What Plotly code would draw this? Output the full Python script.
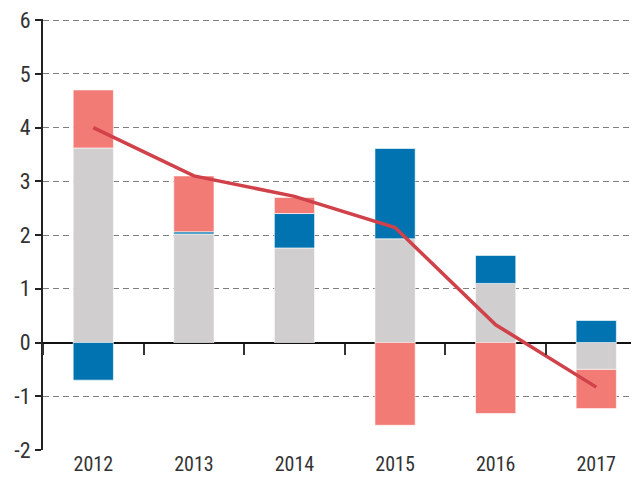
import plotly.graph_objects as go

# values
years = ["2012", "2013", "2014", "2015", "2016", "2017"]
gray_vals = [3.62, 2.02, 1.76, 1.93, 1.10, -0.50]
blue_vals = [-0.70, 0.04, 0.64, 1.68, 0.52, 0.41]
salmon_vals = [1.08, 1.04, 0.30, -1.54, -1.32, -0.73]
line_vals = [4.00, 3.10, 2.72, 2.14, 0.33, -0.83]
y_ticks = [-2, -1, 0, 1, 2, 3, 4, 5, 6]
y_ticktext = ["-2", "-1", "0", "1", "2", "3", "4", "5", "6"]

GRAY = "#d0cecf"
BLUE = "#0073b0"
SALMON = "#f27b76"
RED = "#d0414a"
FONT = "Liberation Sans Narrow, Roboto Condensed, Arial Narrow, sans-serif"

fig = go.Figure()
for vals, col in [(gray_vals, GRAY), (blue_vals, BLUE), (salmon_vals, SALMON)]:
    fig.add_trace(go.Bar(x=years, y=vals, width=0.4,
                         marker=dict(color=col, line=dict(color="rgba(255,255,255,0.6)", width=1)),
                         hoverinfo="skip"))

fig.add_trace(go.Scatter(x=years, y=line_vals, mode="lines", xaxis="x2",
                         line=dict(color=RED, width=3.5)))

# page body has an 8px margin, so the figure is sized/shifted to compensate
fig.update_layout(
    barmode="relative", bargap=0.6,
    width=631, height=473, showlegend=False,
    plot_bgcolor="white", paper_bgcolor="white",
    margin=dict(l=35, r=0, t=11, b=31),
    font=dict(family=FONT, size=20, color="#333"),
    xaxis=dict(type="category", range=[-0.5, 5.425], showgrid=False, showline=False,
               automargin=False, ticks="", ticklabeloverflow="allow",
               tickfont=dict(size=20, color="#333")),
    xaxis2=dict(type="category", matches="x", overlaying="x", anchor="free", position=0.2494,
                side="bottom", showticklabels=False, showgrid=False, showline=False,
                ticks="outside", tickson="boundaries", ticklen=11, tickwidth=2,
                tickcolor="#333"),
    yaxis=dict(range=[-2, 6.02], tickvals=y_ticks, ticktext=y_ticktext,
               showgrid=True, gridcolor="#7f7f7f",
               gridwidth=1.2, griddash="6px,4px", zeroline=True, zerolinecolor="#111",
               zerolinewidth=1.6, showline=True, linecolor="#222", linewidth=2,
               automargin=False, ticks="outside", ticklen=6, tickwidth=2, tickcolor="#222",
               ticklabeloverflow="allow", tickfont=dict(size=22, color="#333")),
)

fig.write_html("out.html")
